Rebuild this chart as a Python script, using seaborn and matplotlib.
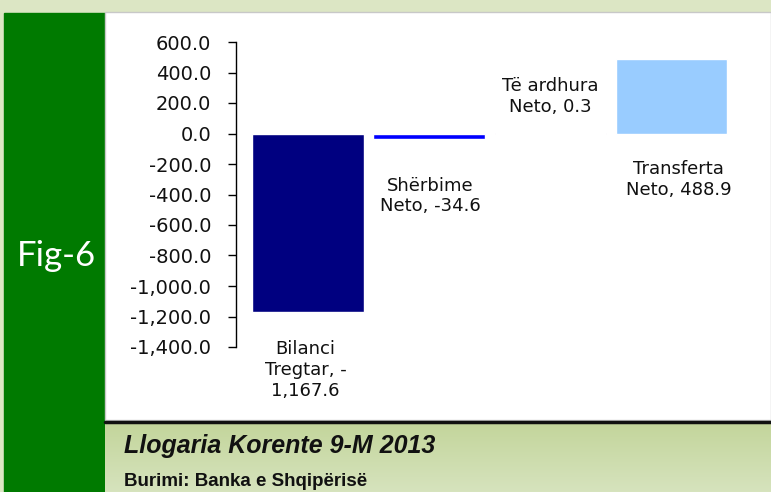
import seaborn as sns
import matplotlib.pyplot as plt
import numpy as np
import pandas as pd
from matplotlib.patches import Rectangle
from matplotlib.colors import LinearSegmentedColormap

# data
categories = ['Bilanci Tregtar', 'Shërbime Neto', 'Të ardhura Neto', 'Transferta Neto']
values = [-1167.6, -34.6, 0.3, 488.9]
labels = ['Bilanci\nTregtar, -\n1,167.6', 'Shërbime\nNeto, -34.6',
          'Të ardhura\nNeto, 0.3', 'Transferta\nNeto, 488.9']
bar_colors = ['#000080', '#0000FF', '#993366', '#99CCFF']
yticks = list(range(-1400, 601, 200))

# label placement (x in category units, y in data units)
label_pos = [(-0.02, -1550), (1.01, -410), (2.0, 245), (3.06, -300)]

df = pd.DataFrame({'cat': categories, 'val': values})

sns.set_style('white')
plt.rcParams['font.family'] = ['DejaVu Sans']

W, H = 771, 492
fig = plt.figure(figsize=(W / 100, H / 100), dpi=100)

# background frame
bg = fig.add_axes([0, 0, 1, 1])
bg.set_xlim(0, W)
bg.set_ylim(H, 0)
bg.axis('off')
bg.add_patch(Rectangle((0, 0), W, H, color='#dce6c4'))
bg.add_patch(Rectangle((4, 13), 101, H - 13, color='#007a00'))
bg.add_patch(Rectangle((105, 12), W - 105, 408, facecolor='white', edgecolor='#c8c8c8', lw=1))
grad = np.linspace(0, 1, 70).reshape(-1, 1)
band = LinearSegmentedColormap.from_list('band', ['#c3d59b', '#d6e3bd'])
bg.imshow(grad, extent=(105, W, 492, 422), cmap=band, aspect='auto', zorder=2)
bg.plot([105, W], [421.5, 421.5], color='#111111', lw=2.5, zorder=3)
bg.text(56, 256, 'Fig-6', color='white', fontsize=25, family=['Lato', 'DejaVu Sans'],
        ha='center', va='center', zorder=4)
bg.text(124, 446, 'Llogaria Korente 9-M 2013', fontsize=18, fontweight='bold', style='italic',
        family=['Liberation Sans Narrow', 'Liberation Sans'], ha='left', va='center',
        color='#111111', zorder=4)
bg.text(124, 481, 'Burimi: Banka e Shqipërisë', fontsize=13.5, fontweight='bold',
        family=['Liberation Sans Narrow', 'Liberation Sans'], ha='left', va='center',
        color='#111111', zorder=4)

# chart
ax = fig.add_axes([236 / W, (H - 347) / H, (732 - 236) / W, (347 - 42) / H])
ax.patch.set_alpha(0)
sns.barplot(data=df, x='cat', y='val', hue='cat', palette=bar_colors,
            width=0.92, legend=False, saturation=1, ax=ax)
ax.set_xlim(-0.595, 3.5)
ax.set_ylim(-1400, 600)
ax.set_yticks(yticks)
ax.set_yticklabels([f'{t:,.1f}' for t in yticks], fontsize=14, color='#111111')
ax.tick_params(axis='y', direction='out', length=6, width=1, color='black', left=True, pad=12)
ax.set_xticks([])
ax.set_xlabel('')
ax.set_ylabel('')
for side in ['top', 'right', 'bottom']:
    ax.spines[side].set_visible(False)
ax.spines['left'].set_color('black')
ax.spines['left'].set_linewidth(1)

for (lx, ly), txt in zip(label_pos, labels):
    ax.text(lx, ly, txt, ha='center', va='center', fontsize=13, color='#111111',
            linespacing=1.2, clip_on=False)

fig.savefig('out.png', dpi=100)
